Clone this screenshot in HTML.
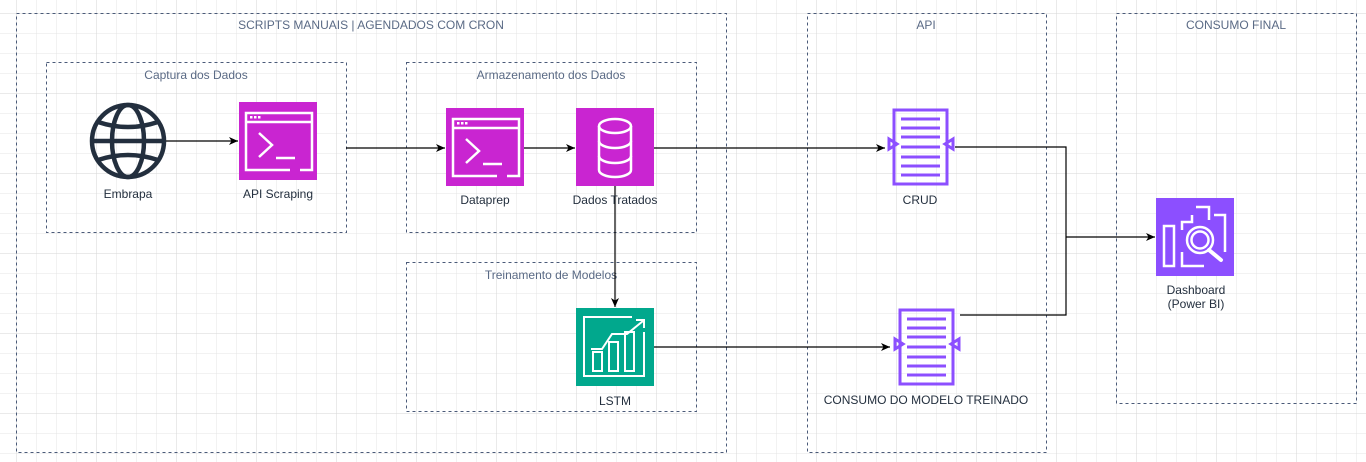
<!DOCTYPE html>
<html><head><meta charset="utf-8"><style>
html,body{margin:0;padding:0;background:#fff;}
svg{display:block;font-family:"Liberation Sans",Helvetica,Arial,sans-serif;}
</style></head><body>
<svg width="1366" height="462" viewBox="0 0 1366 462" xmlns="http://www.w3.org/2000/svg">
<defs>
<pattern id="g" x="16.5" y="13.5" width="20" height="20" patternUnits="userSpaceOnUse">
<path d="M20 0H0V20" fill="none" stroke="#e4e4e4" stroke-width="1"/>
</pattern>
<pattern id="G" x="16.5" y="13.5" width="80" height="80" patternUnits="userSpaceOnUse">
<path d="M80 0H0V80" fill="none" stroke="#d6d6d6" stroke-width="1"/>
</pattern>
<marker id="a" markerWidth="10" markerHeight="10" refX="9" refY="5" orient="auto" markerUnits="userSpaceOnUse">
<path d="M0,1 L9,5 L0,9 L2.5,5 Z" fill="#000"/>
</marker>
</defs>
<rect width="1366" height="462" fill="url(#g)"/>
<rect width="1366" height="462" fill="url(#G)"/>

<g fill="none" stroke="#4a5a78" stroke-width="1" stroke-dasharray="3,3">
<rect x="16.5" y="13.5" width="710" height="439"/>
<rect x="807.5" y="13.5" width="239" height="439"/>
<rect x="1116.5" y="13.5" width="240" height="390"/>
<rect x="46.5" y="62.5" width="300" height="170"/>
<rect x="406.5" y="62.5" width="290" height="170"/>
<rect x="406.5" y="262.5" width="290" height="149"/>
</g>
<g fill="#5a6a85" font-size="12" text-anchor="middle">
<text x="371" y="29">SCRIPTS MANUAIS | AGENDADOS COM CRON</text>
<text x="926" y="29">API</text>
<text x="1236" y="29">CONSUMO FINAL</text>
<text x="196" y="79">Captura dos Dados</text>
<text x="551" y="79">Armazenamento dos Dados</text>
<text x="551" y="279">Treinamento de Modelos</text>
</g>

<g fill="none" stroke="#000" stroke-width="1.2">
<path d="M166 141H238" marker-end="url(#a)"/>
<path d="M346 148H445" marker-end="url(#a)"/>
<path d="M524 148H575" marker-end="url(#a)"/>
<path d="M654 148H885" marker-end="url(#a)"/>
<path d="M615 186V307" marker-end="url(#a)"/>
<path d="M654 347H890" marker-end="url(#a)"/>
<path d="M955 147H1066V315H960"/>
<path d="M1066 237H1155" marker-end="url(#a)"/>
</g>

<g fill="none" stroke="#232f3e" stroke-width="4.5">
<circle cx="128" cy="141" r="36"/>
<ellipse cx="128" cy="141" rx="16" ry="36"/>
<path d="M92 141H164M98 122Q128 132 158 122M98 160Q128 150 158 160"/>
</g>

<g>
<rect x="239" y="102" width="78" height="78" fill="#c925d1"/>
<g fill="none" stroke="#fff" stroke-width="2.5">
<path d="M300 170H312V113H246V170H290M246 122H312"/>
<path d="M259 133L272 145L259 157M276 158H295"/>
</g>
<g fill="#fff"><rect x="250" y="116" width="2.5" height="2.5"/><rect x="254" y="116" width="2.5" height="2.5"/><rect x="258" y="116" width="2.5" height="2.5"/></g>
</g>
<g>
<rect x="446" y="108" width="78" height="78" fill="#c925d1"/>
<g fill="none" stroke="#fff" stroke-width="2.5">
<path d="M507 176H519V119H453V176H497M453 128H519"/>
<path d="M466 139L479 151L466 163M483 164H502"/>
</g>
<g fill="#fff"><rect x="457" y="122" width="2.5" height="2.5"/><rect x="461" y="122" width="2.5" height="2.5"/><rect x="465" y="122" width="2.5" height="2.5"/></g>
</g>
<g>
<rect x="576" y="108" width="78" height="78" fill="#c925d1"/>
<g fill="none" stroke="#fff" stroke-width="2.5">
<ellipse cx="615" cy="126" rx="16" ry="7"/>
<path d="M599 126V170A16 7 0 0 0 631 170V126"/>
<path d="M599 141A16 7 0 0 0 631 141M599 156A16 7 0 0 0 631 156"/>
</g>
</g>
<g>
<rect x="576" y="308" width="78" height="78" fill="#01a88d"/>
<g fill="none" stroke="#fff" stroke-width="2">
<path d="M632 317H584V376H644V332"/>
<path d="M591 349H602L612 334H627L643 321M636 320H644V328"/>
<rect x="593" y="352" width="9" height="19"/>
<rect x="609" y="342" width="9" height="29"/>
<rect x="625" y="332" width="9" height="39"/>
</g>
</g>
<g>
<g fill="none" stroke="#8c4fff" stroke-width="3">
<rect x="894" y="110" width="53" height="74"/>
<path d="M889 139L897 144L889 149Z M953 139L945 144L953 149Z"/>
</g>
<g stroke="#8c4fff" stroke-width="3"><path d="M901 119H940M901 128H940M901 137H940M901 147H940M901 157H940M901 166H940M901 175H940"/></g>
</g>
<g>
<g fill="none" stroke="#8c4fff" stroke-width="3">
<rect x="900" y="310" width="53" height="74"/>
<path d="M895 339L903 344L895 349Z M959 339L951 344L959 349Z"/>
</g>
<g stroke="#8c4fff" stroke-width="3"><path d="M907 319H946M907 328H946M907 337H946M907 347H946M907 357H946M907 366H946M907 375H946"/></g>
</g>
<g>
<rect x="1156" y="198" width="78" height="78" fill="#8c4fff"/>
<g fill="none" stroke="#fff" stroke-width="2.5">
<rect x="1164" y="226" width="10" height="40"/>
<path d="M1182 252V266H1204M1182 230V222H1192V215M1196 207H1209V220M1214 215H1225V252"/>
<circle cx="1200" cy="240" r="13"/>
<circle cx="1200" cy="240" r="8.5"/>
<path d="M1209 250L1221 260" stroke-width="4" stroke-linecap="round"/>
</g>
</g>

<g fill="#232f3e" font-size="12" text-anchor="middle">
<text x="128" y="198">Embrapa</text>
<text x="278" y="198">API Scraping</text>
<text x="485" y="204">Dataprep</text>
<text x="615" y="204">Dados Tratados</text>
<text x="615" y="405">LSTM</text>
<text x="920" y="204">CRUD</text>
<text x="926" y="404">CONSUMO DO MODELO TREINADO</text>
<text x="1196" y="294">Dashboard</text>
<text x="1196" y="308">(Power BI)</text>
</g>
</svg>
</body></html>
